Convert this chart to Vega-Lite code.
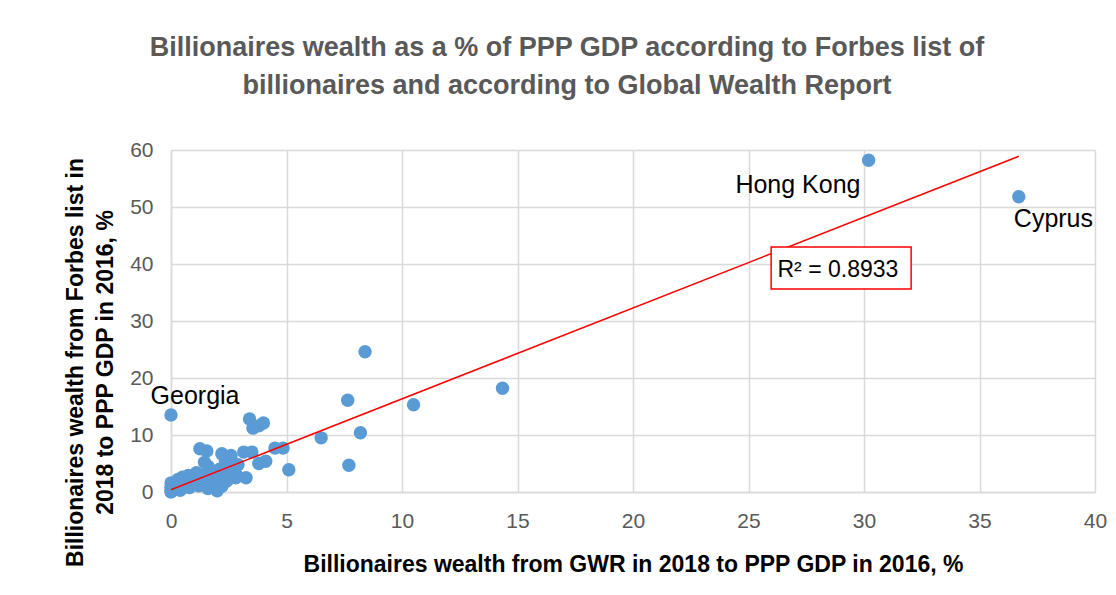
{
  "$schema": "https://vega.github.io/schema/vega-lite/v6.json",
  "width": 924,
  "height": 342,
  "autosize": "none",
  "padding": {"left": 171, "top": 150, "right": 20, "bottom": 92},
  "background": "white",
  "config": {
    "view": {"stroke": null},
    "font": "Liberation Sans"
  },
  "title": {
    "text": ["Billionaires wealth as a % of PPP GDP according to Forbes list of", "billionaires and according to Global Wealth Report"],
    "font": "Liberation Sans",
    "fontSize": 27,
    "fontWeight": "bold",
    "color": "#595959",
    "anchor": "middle",
    "frame": "group",
    "dx": -66,
    "lineHeight": 38,
    "offset": 39
  },
  "datasets": {
    "points": [
      {"gwr": 30.2, "forbes": 58.2},
      {"gwr": 36.7, "forbes": 51.8},
      {"gwr": 0, "forbes": 13.5},
      {"gwr": 8.4, "forbes": 24.6},
      {"gwr": 14.35, "forbes": 18.2},
      {"gwr": 10.5, "forbes": 15.3},
      {"gwr": 7.65, "forbes": 16.1},
      {"gwr": 8.2, "forbes": 10.4},
      {"gwr": 6.5, "forbes": 9.5},
      {"gwr": 7.7, "forbes": 4.7},
      {"gwr": 5.1, "forbes": 3.9},
      {"gwr": 4.5, "forbes": 7.7},
      {"gwr": 4.85, "forbes": 7.7},
      {"gwr": 4.0, "forbes": 12.1},
      {"gwr": 3.4, "forbes": 12.8},
      {"gwr": 3.55, "forbes": 11.2},
      {"gwr": 3.8, "forbes": 11.6},
      {"gwr": 3.25, "forbes": 2.5},
      {"gwr": 4.1, "forbes": 5.4},
      {"gwr": 3.8, "forbes": 5.0},
      {"gwr": 3.5, "forbes": 7.0},
      {"gwr": 3.15, "forbes": 7.0},
      {"gwr": 2.6, "forbes": 6.4},
      {"gwr": 2.2, "forbes": 6.7},
      {"gwr": 1.25, "forbes": 7.6},
      {"gwr": 1.55, "forbes": 7.2},
      {"gwr": 1.6, "forbes": 4.5},
      {"gwr": 1.45, "forbes": 5.2},
      {"gwr": 1.1, "forbes": 3.4},
      {"gwr": 0.75, "forbes": 2.9},
      {"gwr": 0.5, "forbes": 2.6},
      {"gwr": 0.3, "forbes": 2.2},
      {"gwr": 0, "forbes": 1.6},
      {"gwr": 0, "forbes": 0.9},
      {"gwr": 0, "forbes": 0.3},
      {"gwr": 0, "forbes": 0},
      {"gwr": 0.1, "forbes": 1.0},
      {"gwr": 0.2, "forbes": 0.5},
      {"gwr": 0.6, "forbes": 1.2},
      {"gwr": 0.8, "forbes": 0.8},
      {"gwr": 1.0, "forbes": 1.9},
      {"gwr": 1.3, "forbes": 2.3},
      {"gwr": 1.5, "forbes": 3.0},
      {"gwr": 1.8, "forbes": 1.5},
      {"gwr": 2.0, "forbes": 0.2},
      {"gwr": 1.9, "forbes": 2.7},
      {"gwr": 2.3, "forbes": 3.3},
      {"gwr": 2.4, "forbes": 1.9},
      {"gwr": 2.1, "forbes": 4.0},
      {"gwr": 2.7, "forbes": 3.8},
      {"gwr": 2.6, "forbes": 5.0},
      {"gwr": 2.9, "forbes": 4.8},
      {"gwr": 2.5, "forbes": 2.3},
      {"gwr": 2.2, "forbes": 1.0},
      {"gwr": 1.6, "forbes": 0.6},
      {"gwr": 1.2, "forbes": 1.1},
      {"gwr": 0.4, "forbes": 0.3},
      {"gwr": 2.8, "forbes": 2.5},
      {"gwr": 2.85, "forbes": 2.9},
      {"gwr": 2.35, "forbes": 5.6},
      {"gwr": 0.9, "forbes": 2.0}
    ],
    "trend": [
      {"gwr": 0, "forbes": 0.4},
      {"gwr": 36.7, "forbes": 58.9}
    ],
    "box": [
      {"x1": 25.98, "x2": 32.04, "y1": 35.6, "y2": 43.0, "label": "R² = 0.8933", "tx": 28.87, "ty": 37.7}
    ],
    "labels": [
      {"gwr": 27.14, "forbes": 52.5, "name": "Hong Kong"},
      {"gwr": 38.2, "forbes": 46.5, "name": "Cyprus"},
      {"gwr": 1.04, "forbes": 15.4, "name": "Georgia"}
    ]
  },
  "layer": [
    {
      "data": {"name": "points"},
      "mark": {"type": "point", "filled": true, "size": 180, "opacity": 1, "color": "#5B9BD5"},
      "encoding": {
        "x": {
          "field": "gwr", "type": "quantitative",
          "scale": {"domain": [0, 40], "nice": false},
          "axis": {
            "title": "Billionaires wealth from GWR in 2018 to PPP GDP in 2016, %",
            "values": [0, 5, 10, 15, 20, 25, 30, 35, 40],
            "grid": true, "gridColor": "#d9d9d9", "gridWidth": 1.5,
            "domainColor": "#d9d9d9", "domainWidth": 1.5,
            "ticks": false, "labelFlush": false, "labelOverlap": false, "labelBound": false,
            "labelFont": "Liberation Sans", "labelFontSize": 21, "labelColor": "#595959", "labelPadding": 18,
            "titleFont": "Liberation Sans", "titleFontSize": 23, "titleFontWeight": "bold", "titleColor": "#000000",
            "titlePadding": 22
          }
        },
        "y": {
          "field": "forbes", "type": "quantitative",
          "scale": {"domain": [0, 60], "nice": false},
          "axis": {
            "title": ["Billionaires wealth from Forbes list in", "2018 to PPP GDP in 2016, %"],
            "values": [0, 10, 20, 30, 40, 50, 60],
            "grid": true, "gridColor": "#d9d9d9", "gridWidth": 1.5,
            "domainColor": "#d9d9d9", "domainWidth": 1.5,
            "ticks": false, "labelFlush": false,
            "labelFont": "Liberation Sans", "labelFontSize": 21, "labelColor": "#595959", "labelPadding": 18,
            "titleFont": "Liberation Sans", "titleFontSize": 23, "titleFontWeight": "bold", "titleColor": "#000000",
            "titleLineHeight": 30,
            "titleX": -96, "titleY": 212, "titleBaseline": "middle", "titleAngle": -90
          }
        }
      }
    },
    {
      "data": {"name": "trend"},
      "mark": {"type": "line", "color": "#FF0000", "strokeWidth": 1.5},
      "encoding": {
        "x": {"field": "gwr", "type": "quantitative"},
        "y": {"field": "forbes", "type": "quantitative"}
      }
    },
    {
      "data": {"name": "box"},
      "mark": {"type": "rect", "fill": "white", "stroke": "#FF0000", "strokeWidth": 1.5},
      "encoding": {
        "x": {"field": "x1", "type": "quantitative"},
        "x2": {"field": "x2"},
        "y": {"field": "y1", "type": "quantitative"},
        "y2": {"field": "y2"}
      }
    },
    {
      "data": {"name": "box"},
      "mark": {"type": "text", "fontSize": 23, "font": "Liberation Sans", "color": "#000000", "baseline": "alphabetic", "align": "center"},
      "encoding": {
        "x": {"field": "tx", "type": "quantitative"},
        "y": {"field": "ty", "type": "quantitative"},
        "text": {"field": "label"}
      }
    },
    {
      "data": {"name": "labels"},
      "mark": {"type": "text", "fontSize": 25, "font": "Liberation Sans", "color": "#000000", "baseline": "alphabetic", "align": "center"},
      "encoding": {
        "x": {"field": "gwr", "type": "quantitative"},
        "y": {"field": "forbes", "type": "quantitative"},
        "text": {"field": "name"}
      }
    }
  ]
}
